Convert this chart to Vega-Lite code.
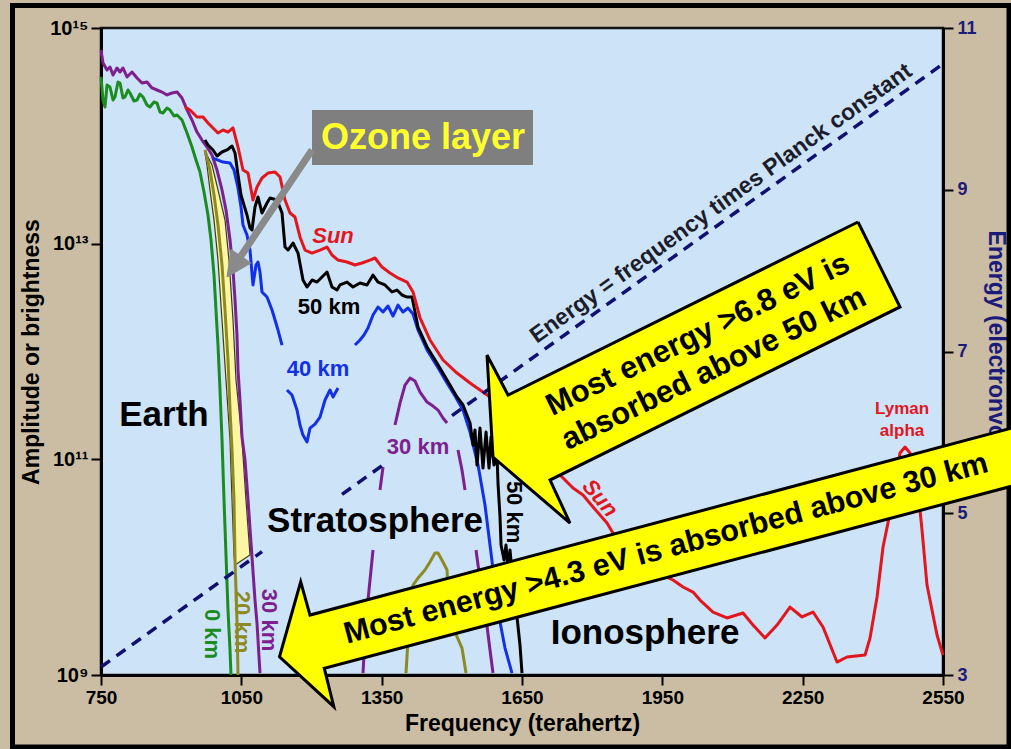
{
  "$schema": "https://vega.github.io/schema/vega-lite/v6.json",
  "width": 842,
  "height": 647,
  "autosize": {"type": "none"},
  "padding": {"left": 101, "top": 28, "right": 68, "bottom": 74},
  "background": "#cbbda4",
  "config": {
    "font": "Liberation Sans",
    "view": {"fill": "#cce3f8", "stroke": "#111111", "strokeWidth": 2.5},
    "axis": {"grid": false, "domainColor": "#000000", "domainWidth": 3, "tickColor": "#000000", "tickWidth": 2, "labelFontWeight": "bold", "titleFontWeight": "bold", "labelColor": "#000000", "titleColor": "#000000"}
  },
  "datasets": {
    "green": [
      {"f":750,"L":14.546},{"f":754.3,"L":14.332},{"f":758.6,"L":14.267},{"f":762.8,"L":14.471},{"f":769.2,"L":14.453},{"f":775.7,"L":14.332},{"f":779.9,"L":14.36},{"f":786.3,"L":14.499},{"f":790.6,"L":14.49},{"f":797,"L":14.351},{"f":801.3,"L":14.36},{"f":807.7,"L":14.425},{"f":812,"L":14.397},{"f":820.5,"L":14.323},{"f":827,"L":14.332},{"f":833.4,"L":14.388},{"f":839.8,"L":14.36},{"f":848.3,"L":14.286},{"f":854.7,"L":14.267},{"f":863.3,"L":14.314},{"f":869.7,"L":14.304},{"f":876.1,"L":14.221},{"f":882.5,"L":14.212},{"f":891.1,"L":14.258},{"f":897.5,"L":14.24},{"f":906,"L":14.184},{"f":912.5,"L":14.193},{"f":923.2,"L":14.147},{"f":933.9,"L":14.026},{"f":944.5,"L":13.896},{"f":953.1,"L":13.776},{"f":961.6,"L":13.665},{"f":970.2,"L":13.479},{"f":978.7,"L":13.266},{"f":985.2,"L":13.034},{"f":991.6,"L":12.709},{"f":995.8,"L":12.385},{"f":1000.1,"L":12.06},{"f":1004.4,"L":11.643},{"f":1008.7,"L":11.179},{"f":1013,"L":10.623},{"f":1017.2,"L":10.113},{"f":1021.5,"L":9.603},{"f":1025.8,"L":9.232},{"f":1027.9,"L":9.0}
    ],
    "olive": [
      {"seg":"L","f":972.3,"L":13.869},{"seg":"L","f":983,"L":13.683},{"seg":"L","f":991.6,"L":13.451},{"seg":"L","f":1000.1,"L":13.173},{"seg":"L","f":1008.7,"L":12.802},{"seg":"L","f":1015.1,"L":12.385},{"seg":"L","f":1021.5,"L":11.921},{"seg":"L","f":1025.8,"L":11.457},{"seg":"L","f":1030.1,"L":11.086},{"seg":"L","f":1034.3,"L":10.623},{"seg":"L","f":1036.5,"L":10.066},{"seg":"L","f":1040.7,"L":9.51},{"seg":"L","f":1042.9,"L":9.0},
      {"seg":"H","f":1402,"L":9.018},{"seg":"H","f":1406.3,"L":9.325},{"seg":"H","f":1410.6,"L":9.603},{"seg":"H","f":1417,"L":9.834},{"seg":"H","f":1427.7,"L":9.899},{"seg":"H","f":1442.6,"L":9.974},{"seg":"H","f":1453.3,"L":10.048},{"seg":"H","f":1464,"L":10.131},{"seg":"H","f":1470.4,"L":10.131},{"seg":"H","f":1481.1,"L":10.048},{"seg":"H","f":1489.7,"L":9.974},{"seg":"H","f":1491.8,"L":9.788},{"seg":"H","f":1494,"L":9.556},{"seg":"H","f":1506.8,"L":9.398},{"seg":"H","f":1521.7,"L":9.25},{"seg":"H","f":1530.3,"L":9.018}
    ],
    "purple": [
      {"seg":"L","f":750,"L":14.796},{"seg":"L","f":754.3,"L":14.675},{"seg":"L","f":762.8,"L":14.61},{"seg":"L","f":769.2,"L":14.638},{"seg":"L","f":775.7,"L":14.564},{"seg":"L","f":784.2,"L":14.629},{"seg":"L","f":790.6,"L":14.592},{"seg":"L","f":797,"L":14.629},{"seg":"L","f":805.6,"L":14.546},{"seg":"L","f":816.3,"L":14.592},{"seg":"L","f":827,"L":14.536},{"seg":"L","f":837.7,"L":14.49},{"seg":"L","f":848.3,"L":14.499},{"seg":"L","f":859,"L":14.444},{"seg":"L","f":869.7,"L":14.425},{"seg":"L","f":880.4,"L":14.406},{"seg":"L","f":891.1,"L":14.379},{"seg":"L","f":901.8,"L":14.397},{"seg":"L","f":912.5,"L":14.406},{"seg":"L","f":923.2,"L":14.351},{"seg":"L","f":933.9,"L":14.24},{"seg":"L","f":944.5,"L":14.147},{"seg":"L","f":955.2,"L":14.035},{"seg":"L","f":965.9,"L":13.961},{"seg":"L","f":976.6,"L":13.896},{"seg":"L","f":987.3,"L":13.822},{"seg":"L","f":998,"L":13.683},{"seg":"L","f":1008.7,"L":13.498},{"seg":"L","f":1017.2,"L":13.312},{"seg":"L","f":1025.8,"L":13.034},{"seg":"L","f":1032.2,"L":12.756},{"seg":"L","f":1036.5,"L":12.478},{"seg":"L","f":1040.7,"L":12.153},{"seg":"L","f":1042.9,"L":11.828},{"seg":"L","f":1047.1,"L":11.55},{"seg":"L","f":1051.4,"L":11.207},{"seg":"L","f":1057.8,"L":10.994},{"seg":"L","f":1064.3,"L":10.623},{"seg":"L","f":1072.8,"L":10.094},{"seg":"L","f":1079.2,"L":9.695},{"seg":"L","f":1083.5,"L":9.482},{"seg":"L","f":1089.9,"L":9.018},
      {"seg":"A","f":1310.1,"L":9.018},{"seg":"A","f":1316.5,"L":9.51},{"seg":"A","f":1325.1,"L":9.881},{"seg":"A","f":1331.5,"L":10.159},
      {"seg":"B","f":1346.4,"L":10.715},{"seg":"B","f":1352.9,"L":10.929},
      {"seg":"C","f":1378.5,"L":11.318},{"seg":"C","f":1389.2,"L":11.522},{"seg":"C","f":1399.9,"L":11.689},{"seg":"C","f":1410.6,"L":11.754},{"seg":"C","f":1421.3,"L":11.726},{"seg":"C","f":1432,"L":11.624},{"seg":"C","f":1447,"L":11.531},{"seg":"C","f":1459.7,"L":11.494},{"seg":"C","f":1470.4,"L":11.457},{"seg":"C","f":1481.1,"L":11.383},{"seg":"C","f":1489.7,"L":11.337},
      {"seg":"D","f":1513.2,"L":11.086},{"seg":"D","f":1521.7,"L":10.901},{"seg":"D","f":1528.2,"L":10.716},
      {"seg":"E","f":1551.7,"L":10.159},{"seg":"E","f":1556,"L":10.02},{"seg":"E","f":1570.9,"L":9.603},{"seg":"E","f":1581.6,"L":9.232},{"seg":"E","f":1588,"L":9.018}
    ],
    "blue": [
      {"seg":"1","f":989.4,"L":13.794},{"seg":"1","f":1010.8,"L":13.757},{"seg":"1","f":1025.8,"L":13.748},{"seg":"1","f":1034.3,"L":13.683},{"seg":"1","f":1042.9,"L":13.516},{"seg":"1","f":1049.3,"L":13.34},{"seg":"1","f":1053.6,"L":13.173},{"seg":"1","f":1062.1,"L":13.08},{"seg":"1","f":1068.5,"L":12.941},{"seg":"1","f":1074.9,"L":12.617},{"seg":"1","f":1081.4,"L":12.802},{"seg":"1","f":1085.6,"L":12.83},{"seg":"1","f":1089.9,"L":12.737},{"seg":"1","f":1094.2,"L":12.552},{"seg":"1","f":1104.9,"L":12.505},{"seg":"1","f":1115.6,"L":12.385},{"seg":"1","f":1128.4,"L":12.199},{"seg":"1","f":1137,"L":12.06},
      {"seg":"2","f":1147.6,"L":11.643},{"seg":"2","f":1158.3,"L":11.596},{"seg":"2","f":1169,"L":11.457},{"seg":"2","f":1175.4,"L":11.318},{"seg":"2","f":1181.8,"L":11.225},{"seg":"2","f":1190.4,"L":11.161},{"seg":"2","f":1196.8,"L":11.29},{"seg":"2","f":1207.5,"L":11.327},{"seg":"2","f":1218.2,"L":11.392},{"seg":"2","f":1228.9,"L":11.55},{"seg":"2","f":1239.6,"L":11.643},{"seg":"2","f":1246,"L":11.578},{"seg":"2","f":1256.7,"L":11.661},
      {"seg":"3","f":1293,"L":12.06},{"seg":"3","f":1303.7,"L":12.107},{"seg":"3","f":1312.2,"L":12.153},{"seg":"3","f":1320.8,"L":12.218},{"seg":"3","f":1331.5,"L":12.338},{"seg":"3","f":1342.2,"L":12.413},{"seg":"3","f":1352.9,"L":12.366},{"seg":"3","f":1363.5,"L":12.422},{"seg":"3","f":1374.2,"L":12.329},{"seg":"3","f":1384.9,"L":12.431},{"seg":"3","f":1395.6,"L":12.366},{"seg":"3","f":1406.3,"L":12.403},{"seg":"3","f":1417,"L":12.348},{"seg":"3","f":1427.7,"L":12.2},{"seg":"3","f":1447,"L":12.014},{"seg":"3","f":1468.2,"L":11.865},{"seg":"3","f":1489.7,"L":11.708},{"seg":"3","f":1506.8,"L":11.587},{"seg":"3","f":1523.9,"L":11.457},{"seg":"3","f":1538.9,"L":11.253},{"seg":"3","f":1556,"L":10.947},{"seg":"3","f":1570.9,"L":10.576},{"seg":"3","f":1581.6,"L":10.205},{"seg":"3","f":1592.3,"L":9.834},{"seg":"3","f":1603,"L":9.491},{"seg":"3","f":1613.7,"L":9.25},{"seg":"3","f":1628.6,"L":9.018}
    ],
    "black": [
      {"f":972.3,"L":13.961},{"f":978.7,"L":13.915},{"f":989.4,"L":13.869},{"f":998,"L":13.813},{"f":1008.7,"L":13.85},{"f":1019.4,"L":13.869},{"f":1030.1,"L":13.906},{"f":1036.5,"L":13.841},{"f":1042.9,"L":13.637},{"f":1049.3,"L":13.451},{"f":1055.7,"L":13.358},{"f":1062.1,"L":13.266},{"f":1068.5,"L":13.145},{"f":1072.8,"L":13.127},{"f":1079.2,"L":13.34},{"f":1085.6,"L":13.433},{"f":1094.2,"L":13.284},{"f":1104.9,"L":13.377},{"f":1111.3,"L":13.423},{"f":1126.3,"L":13.405},{"f":1137,"L":13.284},{"f":1143.4,"L":12.969},{"f":1149.8,"L":12.941},{"f":1160.5,"L":13.006},{"f":1171.2,"L":12.913},{"f":1181.8,"L":12.663},{"f":1190.4,"L":12.598},{"f":1201.1,"L":12.663},{"f":1211.8,"L":12.644},{"f":1222.5,"L":12.691},{"f":1233.1,"L":12.737},{"f":1243.8,"L":12.598},{"f":1254.5,"L":12.57},{"f":1260.9,"L":12.617},{"f":1275.9,"L":12.644},{"f":1288.7,"L":12.598},{"f":1303.7,"L":12.635},{"f":1318.7,"L":12.617},{"f":1331.5,"L":12.709},{"f":1342.2,"L":12.644},{"f":1357.1,"L":12.617},{"f":1372.1,"L":12.552},{"f":1382.8,"L":12.57},{"f":1393.5,"L":12.524},{"f":1404.2,"L":12.505},{"f":1414.9,"L":12.505},{"f":1427.7,"L":12.227},{"f":1447,"L":12.042},{"f":1468.2,"L":11.893},{"f":1489.7,"L":11.736},{"f":1511,"L":11.578},{"f":1523.9,"L":11.504},{"f":1538.9,"L":11.337},{"f":1545.3,"L":11.133},{"f":1549.5,"L":11.272},{"f":1553.8,"L":10.947},{"f":1560.2,"L":11.29},{"f":1566.6,"L":10.919},{"f":1573.1,"L":11.253},{"f":1579.5,"L":10.919},{"f":1583.7,"L":11.207},{"f":1590.2,"L":10.947},{"f":1596.6,"L":11.04},{"f":1598.7,"L":10.78},{"f":1603,"L":10.465},{"f":1605.2,"L":10.205},{"f":1611.6,"L":10.066},{"f":1615.8,"L":10.205},{"f":1620.1,"L":10.001},{"f":1624.4,"L":10.159},{"f":1628.6,"L":9.955},{"f":1632.9,"L":9.769},{"f":1639.3,"L":9.538},{"f":1645.7,"L":9.278},{"f":1650,"L":9.018}
    ],
    "sun": [
      {"f":929.6,"L":14.267},{"f":940.3,"L":14.24},{"f":955.2,"L":14.175},{"f":968.1,"L":14.175},{"f":978.7,"L":14.119},{"f":989.4,"L":14.073},{"f":1000.1,"L":14.026},{"f":1010.8,"L":14.054},{"f":1021.5,"L":14.035},{"f":1032.2,"L":14.073},{"f":1042.9,"L":13.896},{"f":1053.6,"L":13.683},{"f":1064.3,"L":13.655},{"f":1074.9,"L":13.405},{"f":1083.5,"L":13.525},{"f":1094.2,"L":13.609},{"f":1107,"L":13.655},{"f":1122,"L":13.665},{"f":1132.7,"L":13.618},{"f":1143.4,"L":13.405},{"f":1154,"L":13.284},{"f":1164.7,"L":13.247},{"f":1175.4,"L":13.062},{"f":1186.1,"L":12.941},{"f":1201.1,"L":12.913},{"f":1218.2,"L":12.941},{"f":1233.1,"L":12.969},{"f":1243.8,"L":12.895},{"f":1256.7,"L":12.848},{"f":1275.9,"L":12.83},{"f":1293,"L":12.802},{"f":1308,"L":12.821},{"f":1325.1,"L":12.848},{"f":1335.8,"L":12.867},{"f":1350.7,"L":12.783},{"f":1367.8,"L":12.728},{"f":1384.9,"L":12.682},{"f":1404.2,"L":12.644},{"f":1417,"L":12.552},{"f":1432,"L":12.311},{"f":1453.3,"L":12.107},{"f":1481.1,"L":11.921},{"f":1511,"L":11.8},{"f":1538.9,"L":11.708},{"f":1560.2,"L":11.643},{"f":1581.6,"L":11.578},{"f":1603,"L":11.504},{"f":1635.1,"L":11.365},{"f":1667.1,"L":11.179},{"f":1699.2,"L":10.994},{"f":1720.6,"L":10.901},{"f":1737.7,"L":10.827},{"f":1759.1,"L":10.734},{"f":1780.4,"L":10.669},{"f":1801.8,"L":10.558},{"f":1831.7,"L":10.409},{"f":1859.5,"L":10.205},{"f":1891.6,"L":10.094},{"f":1923.6,"L":10.001},{"f":1949.3,"L":9.927},{"f":1972.8,"L":9.881},{"f":1994.2,"L":9.816},{"f":2015.6,"L":9.769},{"f":2030.5,"L":9.695},{"f":2058.3,"L":9.584},{"f":2088.3,"L":9.529},{"f":2122.5,"L":9.575},{"f":2143.8,"L":9.463},{"f":2169.5,"L":9.343},{"f":2195.2,"L":9.463},{"f":2222.9,"L":9.63},{"f":2248.6,"L":9.538},{"f":2272.1,"L":9.584},{"f":2293.5,"L":9.445},{"f":2323.4,"L":9.12},{"f":2344.8,"L":9.167},{"f":2383.3,"L":9.185},{"f":2394,"L":9.343},{"f":2409,"L":9.723},{"f":2421.8,"L":10.187},{"f":2436.7,"L":10.502},{"f":2447.4,"L":10.808},{"f":2458.1,"L":11.059},{"f":2468.8,"L":11.114},{"f":2479.5,"L":11.059},{"f":2494.4,"L":10.808},{"f":2505.1,"L":10.345},{"f":2515.8,"L":9.834},{"f":2526.5,"L":9.603},{"f":2537.2,"L":9.371},{"f":2550,"L":9.185}
    ],
    "ozone": [
      {"f":972.3,"L":13.841},{"f":976.6,"L":13.729},{"f":983,"L":13.498},{"f":991.6,"L":13.219},{"f":1000.1,"L":12.848},{"f":1008.7,"L":12.292},{"f":1017.2,"L":11.736},{"f":1025.8,"L":11.179},{"f":1030.1,"L":10.623},{"f":1034.3,"L":10.113},{"f":1036.5,"L":10.02},{"f":1068.5,"L":10.113},{"f":1059.9,"L":10.623},{"f":1051.4,"L":11.179},{"f":1038.6,"L":11.736},{"f":1032.2,"L":12.292},{"f":1023.6,"L":12.848},{"f":1015.1,"L":13.219},{"f":1000.1,"L":13.498},{"f":987.3,"L":13.729},{"f":974.4,"L":13.841},{"f":972.3,"L":13.841}
    ],
    "energy": [
      {"seg":"a","f":750,"E":3.099},{"seg":"a","f":1094.2,"E":4.525},
      {"seg":"b","f":1265.2,"E":5.233},{"seg":"b","f":1350.7,"E":5.588},
      {"seg":"c","f":1500.4,"E":6.208},{"seg":"c","f":2550,"E":10.556}
    ],
    "callout1": [
      {"f":2368.3,"L":13.201},{"f":2458.1,"L":12.413},{"f":1709.9,"L":10.808},{"f":1752.6,"L":10.409},{"f":1588,"L":11.021},{"f":1575.2,"L":11.967},{"f":1620.1,"L":11.596},{"f":2368.3,"L":13.201}
    ],
    "callout2": [
      {"f":2757.4,"L":11.36},{"f":2787.3,"L":10.855},{"f":1227.4,"L":9.062},{"f":1247.7,"L":8.706},{"f":1131.6,"L":9.169},{"f":1176.9,"L":9.865},{"f":1196.8,"L":9.556},{"f":2757.4,"L":11.36}
    ]
  },
  "encoding": {
    "x": {
      "field": "f", "type": "quantitative", "title": "Frequency (terahertz)",
      "scale": {"domain": [750, 2550], "nice": false, "zero": false},
      "axis": {"values": [750, 1050, 1350, 1650, 1950, 2250, 2550], "format": "d", "tickSize": 10, "labelFontSize": 19, "labelPadding": 3, "labelFlush": false, "titleFontSize": 23, "titlePadding": 5}
    }
  },
  "layer": [
    {
      "encoding": {
        "y": {
          "field": "L", "type": "quantitative", "title": "Amplitude or brightness",
          "scale": {"domain": [9, 15], "nice": false, "zero": false},
          "axis": {"values": [9, 11, 13, 15], "labelExpr": "datum.value == 15 ? '10¹⁵' : datum.value == 13 ? '10¹³' : datum.value == 11 ? '10¹¹' : '10⁹'", "tickSize": 10, "labelFontSize": 20, "labelPadding": 3, "titleFontSize": 23, "titlePadding": 6}
        }
      },
      "layer": [
        {"data": {"values": [{"f": 560.8, "f2": 2691.1, "L": 15.209, "L2": 8.332}]}, "mark": {"type": "rect", "filled": false, "stroke": "#000000", "strokeWidth": 5}, "encoding": {"x2": {"field": "f2"}, "y2": {"field": "L2"}}},
        {"data": {"name": "ozone"}, "mark": {"type": "line", "fill": "#fbf5a4", "stroke": "#3d3d12", "strokeWidth": 1.2}, "encoding": {"order": {"value": null}}},
        {"data": {"name": "green"}, "mark": {"type": "line", "color": "#1b8c1f", "strokeWidth": 3, "strokeJoin": "round"}, "encoding": {"order": {"value": null}}},
        {"data": {"name": "olive"}, "mark": {"type": "line", "color": "#8c8a22", "strokeWidth": 3, "strokeJoin": "round"}, "encoding": {"detail": {"field": "seg"}, "order": {"value": null}}},
        {"data": {"name": "purple"}, "mark": {"type": "line", "color": "#7d1f8e", "strokeWidth": 3, "strokeJoin": "round"}, "encoding": {"detail": {"field": "seg"}, "order": {"value": null}}},
        {"data": {"name": "blue"}, "mark": {"type": "line", "color": "#1230e8", "strokeWidth": 3, "strokeJoin": "round"}, "encoding": {"detail": {"field": "seg"}, "order": {"value": null}}},
        {"data": {"name": "black"}, "mark": {"type": "line", "color": "#000000", "strokeWidth": 3, "strokeJoin": "round"}, "encoding": {"order": {"value": null}}},
        {"data": {"name": "sun"}, "mark": {"type": "line", "color": "#e3161d", "strokeWidth": 3, "strokeJoin": "round"}, "encoding": {"order": {"value": null}}},
        {"data": {"values": [{"f": 1201.1, "f2": 1673.5, "L": 14.24, "L2": 13.729}]}, "mark": {"type": "rect", "color": "#7f7f7f"}, "encoding": {"x2": {"field": "f2"}, "y2": {"field": "L2"}}},
        {"data": {"values": [{"f": 1438.4, "L": 13.98, "t": "Ozone layer"}]}, "mark": {"type": "text", "fontSize": 36, "fontWeight": "bold", "color": "#ffff2e", "align": "center", "baseline": "middle"}, "encoding": {"text": {"field": "t"}}},
        {"data": {"values": [{"f": 1201.1, "L": 13.869}, {"f": 1049.3, "L": 12.886}]}, "mark": {"type": "line", "color": "#8a8a8a", "strokeWidth": 7}, "encoding": {"order": {"value": null}}},
        {"data": {"values": [{"f": 1019.4, "L": 12.691}, {"f": 1027.9, "L": 12.946}, {"f": 1070.7, "L": 12.821}, {"f": 1019.4, "L": 12.691}]}, "mark": {"type": "line", "fill": "#8a8a8a", "stroke": "#8a8a8a", "strokeWidth": 1}, "encoding": {"order": {"value": null}}},
        {"data": {"values": [{"f": 884.7, "L": 11.411, "t": "Earth"}, {"f": 1335.8, "L": 10.428, "t": "Stratosphere"}, {"f": 1913, "L": 9.389, "t": "Ionosphere"}]}, "mark": {"type": "text", "fontSize": 35, "fontWeight": "bold", "color": "#000000", "align": "center", "baseline": "middle"}, "encoding": {"text": {"field": "t"}}},
        {"data": {"values": [{"f": 1246, "L": 13.071, "t": "Sun"}]}, "mark": {"type": "text", "fontSize": 22, "fontWeight": "bold", "fontStyle": "italic", "color": "#e3161d", "align": "center", "baseline": "middle"}, "encoding": {"text": {"field": "t"}}},
        {"data": {"values": [{"f": 1816.8, "L": 10.641, "t": "Sun"}]}, "mark": {"type": "text", "fontSize": 22, "fontWeight": "bold", "fontStyle": "italic", "color": "#e3161d", "align": "center", "baseline": "middle", "angle": 50}, "encoding": {"text": {"field": "t"}}},
        {"data": {"values": [{"f": 1237.4, "L": 12.413, "t": "50 km"}]}, "mark": {"type": "text", "fontSize": 22, "fontWeight": "bold", "color": "#000000", "align": "center", "baseline": "middle"}, "encoding": {"text": {"field": "t"}}},
        {"data": {"values": [{"f": 1632.9, "L": 10.511, "t": "50 km"}]}, "mark": {"type": "text", "fontSize": 22, "fontWeight": "bold", "color": "#000000", "align": "center", "baseline": "middle", "angle": 90}, "encoding": {"text": {"field": "t"}}},
        {"data": {"values": [{"f": 1213.9, "L": 11.838, "t": "40 km"}]}, "mark": {"type": "text", "fontSize": 22, "fontWeight": "bold", "color": "#1230e8", "align": "center", "baseline": "middle"}, "encoding": {"text": {"field": "t"}}},
        {"data": {"values": [{"f": 1427.7, "L": 11.114, "t": "30 km"}]}, "mark": {"type": "text", "fontSize": 22, "fontWeight": "bold", "color": "#7d1f8e", "align": "center", "baseline": "middle"}, "encoding": {"text": {"field": "t"}}},
        {"data": {"values": [{"f": 1109.2, "L": 9.51, "t": "30 km"}]}, "mark": {"type": "text", "fontSize": 22, "fontWeight": "bold", "color": "#7d1f8e", "align": "center", "baseline": "middle", "angle": 90}, "encoding": {"text": {"field": "t"}}},
        {"data": {"values": [{"f": 1051.4, "L": 9.491, "t": "20 km"}]}, "mark": {"type": "text", "fontSize": 22, "fontWeight": "bold", "color": "#8c8a22", "align": "center", "baseline": "middle", "angle": 90}, "encoding": {"text": {"field": "t"}}},
        {"data": {"values": [{"f": 987.3, "L": 9.38, "t": "0 km"}]}, "mark": {"type": "text", "fontSize": 22, "fontWeight": "bold", "color": "#1b8c1f", "align": "center", "baseline": "middle", "angle": 90}, "encoding": {"text": {"field": "t"}}},
        {"data": {"values": [{"f": 2462.4, "L": 11.467, "t": "Lyman"}, {"f": 2462.4, "L": 11.263, "t": "alpha"}]}, "mark": {"type": "text", "fontSize": 17, "fontWeight": "bold", "color": "#e3161d", "align": "center", "baseline": "middle"}, "encoding": {"text": {"field": "t"}}}
      ]
    },
    {
      "encoding": {
        "y": {
          "field": "E", "type": "quantitative", "title": "Energy (electronvolts)",
          "scale": {"domain": [3, 11], "nice": false, "zero": false},
          "axis": {"orient": "right", "values": [3, 5, 7, 9, 11], "tickSize": 10, "labelFontSize": 18, "labelColor": "#1b1b7a", "titleColor": "#1b1b7a", "titleFontSize": 23, "labelPadding": 4, "titlePadding": 7}
        }
      },
      "layer": [
        {"data": {"name": "energy"}, "mark": {"type": "line", "color": "#101070", "strokeWidth": 3.5, "strokeDash": [11, 8]}, "encoding": {"detail": {"field": "seg"}}},
        {"data": {"values": [{"f": 2075.4, "E": 8.83, "t": "Energy = frequency times Planck constant"}]}, "mark": {"type": "text", "angle": -35.6, "fontSize": 23, "fontWeight": "bold", "color": "#1c1c2a", "align": "center", "baseline": "middle"}, "encoding": {"text": {"field": "t"}}}
      ]
    },
    {
      "encoding": {
        "y": {"field": "L", "type": "quantitative", "scale": {"domain": [9, 15], "nice": false, "zero": false}, "axis": null}
      },
      "layer": [
        {"data": {"name": "callout1"}, "mark": {"type": "line", "fill": "#ffff00", "stroke": "#000000", "strokeWidth": 3}, "encoding": {"order": {"value": null}}},
        {"data": {"values": [{"f": 2026.3, "L": 12.153, "t": "Most energy >6.8 eV is"}, {"f": 2060.5, "L": 11.838, "t": "absorbed above 50 km"}]}, "mark": {"type": "text", "angle": -26, "fontSize": 31, "fontWeight": "bold", "color": "#000000", "align": "center", "baseline": "middle"}, "encoding": {"text": {"field": "t"}}},
        {"data": {"name": "callout2"}, "mark": {"type": "line", "fill": "#ffff00", "stroke": "#000000", "strokeWidth": 3}, "encoding": {"order": {"value": null}}},
        {"data": {"values": [{"f": 1958, "L": 10.17, "t": "Most energy >4.3 eV is absorbed above 30 km"}]}, "mark": {"type": "text", "angle": -15, "fontSize": 30.5, "fontWeight": "bold", "color": "#000000", "align": "center", "baseline": "middle"}, "encoding": {"text": {"field": "t"}}}
      ]
    }
  ],
  "resolve": {"scale": {"y": "independent"}}
}
